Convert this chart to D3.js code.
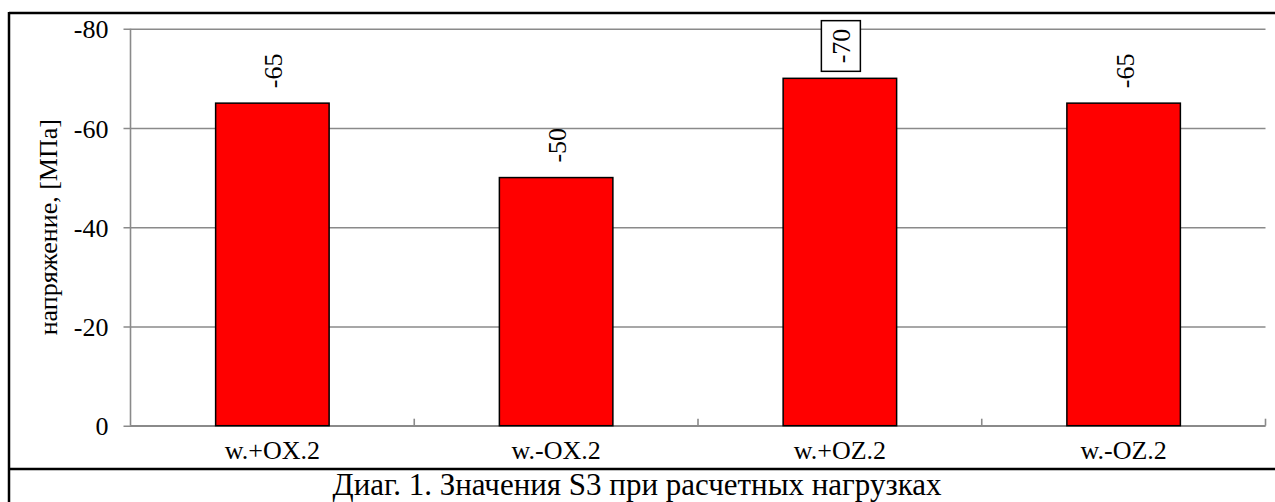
<!DOCTYPE html>
<html>
<head>
<meta charset="utf-8">
<script src="https://cdn.jsdelivr.net/npm/d3@7"></script>
<style>
  html, body { margin: 0; padding: 0; background: #fff; }
  svg { display: block; }
</style>
</head>
<body>
<svg id="chart" width="1275" height="502"></svg>
<script>
const categories = ["w.+OX.2", "w.-OX.2", "w.+OZ.2", "w.-OZ.2"];
const values = [-65, -50, -70, -65];
const labelBoxed = [false, false, true, false];
const yTicks = [0, -20, -40, -60, -80];
const yTitle = "напряжение, [МПа]";
const caption = "Диаг. 1. Значения S3 при расчетных нагрузках";

const FONT = "Liberation Serif";
const W = 1275, H = 502;
const plot = { left: 130.5, right: 1265.5, top: 28.7, bottom: 425.7 };
const svg = d3.select("#chart");

// outer frame
svg.append("line").attr("x1", 9).attr("x2", W).attr("y1", 13).attr("y2", 13)
  .attr("stroke", "#000").attr("stroke-width", 2.5);
svg.append("line").attr("x1", 9).attr("x2", 9).attr("y1", 12).attr("y2", H)
  .attr("stroke", "#000").attr("stroke-width", 2.5);
svg.append("line").attr("x1", 9).attr("x2", W).attr("y1", 469).attr("y2", 469)
  .attr("stroke", "#000").attr("stroke-width", 2.5);

const x = d3.scaleBand().domain(categories).range([plot.left, plot.right]).paddingInner(0.6).paddingOuter(0.3);
const xb = d3.scaleBand().domain(categories).range([plot.left, plot.right]);
const y = d3.scaleLinear().domain([0, -80]).range([plot.bottom, plot.top]);

const grid = "#8a8a8a";

// gridlines + y axis ticks
const yAxis = d3.axisLeft(y).tickValues(yTicks).tickSize(-(plot.right - plot.left)).tickPadding(0).tickFormat(d => d);
const gy = svg.append("g").attr("transform", `translate(${plot.left},0)`).call(yAxis)
  .attr("font-family", FONT).attr("font-size", 26);
gy.select(".domain").remove();
gy.selectAll(".tick line").attr("stroke", grid).attr("stroke-width", 1.6).attr("x1", -7);
gy.selectAll(".tick text").attr("x", -22).attr("dy", "0.35em").attr("fill", "#000");

// y axis line
svg.append("line").attr("x1", plot.left).attr("x2", plot.left).attr("y1", plot.top).attr("y2", plot.bottom)
  .attr("stroke", grid).attr("stroke-width", 1.6);

// x axis
const gx = svg.append("g").attr("transform", `translate(0,${plot.bottom})`)
  .call(d3.axisBottom(xb).tickSize(0).tickPadding(15))
  .attr("font-family", FONT).attr("font-size", 26);
gx.select(".domain").attr("stroke", grid).attr("stroke-width", 1.6).attr("d", `M${plot.left},0H${plot.right}`);
gx.selectAll(".tick text").attr("dy", "0.71em").attr("fill", "#000");
// category boundary ticks (inside)
const bounds = categories.map(c => xb(c) + xb.bandwidth());
svg.append("g").selectAll("line").data(bounds).join("line")
  .attr("x1", d => d).attr("x2", d => d).attr("y1", plot.bottom - 7).attr("y2", plot.bottom)
  .attr("stroke", grid).attr("stroke-width", 1.6);

// bars
svg.append("g").selectAll("rect").data(values).join("rect")
  .attr("x", (d, i) => x(categories[i]))
  .attr("width", x.bandwidth())
  .attr("y", d => y(d))
  .attr("height", d => y(0) - y(d))
  .attr("fill", "#ff0000").attr("stroke", "#000").attr("stroke-width", 1.5);

// data labels
const lg = svg.append("g").attr("font-family", FONT).attr("font-size", 26);
values.forEach((v, i) => {
  const cx = x(categories[i]) + x.bandwidth() / 2 + 1;
  const by = y(v) - 15;
  const g = lg.append("g").attr("transform", `translate(${cx},${by}) rotate(-90)`);
  const t = g.append("text").attr("x", 0).attr("y", 0).attr("dy", "0.35em")
    .attr("text-anchor", "start").attr("fill", "#000").text(v);
  if (labelBoxed[i]) {
    const bb = t.node().getBBox();
    g.insert("rect", "text").attr("x", bb.x - 8).attr("y", -19.5).attr("width", bb.width + 16).attr("height", 39)
      .attr("fill", "#fff").attr("stroke", "#000").attr("stroke-width", 1.5);
  }
});

// y title
svg.append("text").attr("transform", `translate(57,${(plot.top + plot.bottom) / 2}) rotate(-90)`)
  .attr("text-anchor", "middle").attr("font-family", FONT).attr("font-size", 26).attr("fill", "#000").text(yTitle);

// caption
svg.append("text").attr("x", 637).attr("y", 495).attr("text-anchor", "middle")
  .attr("font-family", FONT).attr("font-size", 31).attr("fill", "#000").text(caption);
</script>
</body>
</html>
